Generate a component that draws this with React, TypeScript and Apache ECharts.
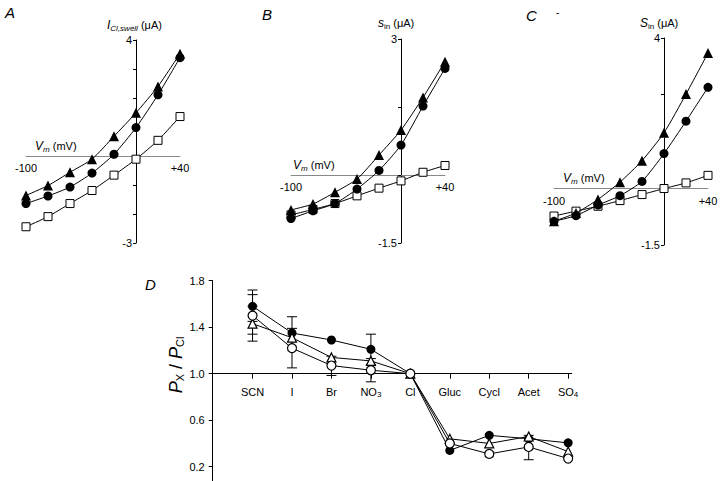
import React, { useEffect, useRef } from "react";
import * as echarts from "echarts";

const voltages = [-100, -80, -60, -40, -20, 0, 20, 40];

const aTriangle = [-1.36, -1.02, -0.56, -0.11, 0.68, 1.49, 2.4, 3.53];
const aCircle = [-1.64, -1.38, -1.07, -0.59, 0.06, 0.98, 2.11, 3.39];
const aSquare = [-2.44, -2.09, -1.64, -1.19, -0.66, -0.11, 0.54, 1.36];

const bTriangle = [-0.77, -0.64, -0.38, -0.09, 0.44, 0.99, 1.71, 2.5];
const bCircle = [-0.96, -0.79, -0.63, -0.31, 0.1, 0.66, 1.52, 2.35];
const bSquare = [-0.88, -0.76, -0.63, -0.46, -0.29, -0.13, 0.06, 0.21];

const cTriangle = [-0.87, -0.65, -0.29, 0.17, 0.74, 1.48, 2.51, 3.6];
const cCircle = [-0.87, -0.72, -0.44, -0.19, 0.19, 0.93, 1.79, 2.69];
const cSquare = [-0.73, -0.6, -0.47, -0.32, -0.16, 0.0, 0.15, 0.35];

const xTickLabels = [-100, 40];
const aYLabels = [-3, 4];
const bYLabels = [-1.5, 3];
const cYLabels = [-1.5, 4];

const ions = ["SCN", "I", "Br", "NO3", "Cl", "Gluc", "Cycl", "Acet", "SO4"];
const dYLabels = [0.2, 0.6, 1.0, 1.4, 1.8];
const dFilled = [1.58, 1.35, 1.29, 1.21, 1.0, 0.34, 0.47, 0.44, 0.405];
const dTriangle = [1.43, 1.31, 1.14, 1.11, 1.0, 0.44, 0.4, 0.46, 0.33];
const dOpen = [1.5, 1.22, 1.07, 1.03, 1.0, 0.4, 0.31, 0.37, 0.27];
// error bars: [ion index, low, high]
const dErrors = [
  [0, 1.45, 1.72],
  [0, 1.34, 1.68],
  [0, 1.28, 1.58],
  [1, 1.22, 1.49],
  [1, 1.05, 1.39],
  [2, 0.985, 1.15],
  [3, 1.08, 1.34],
  [3, 0.93, 1.13],
  [7, 0.26, 0.47],
];

const FONT = "'Liberation Sans', Arial, Helvetica, sans-serif";

function App() {
  const ref = useRef<HTMLDivElement>(null);
  useEffect(() => {
    if (!ref.current) return;
    const chart = echarts.init(ref.current, null, { renderer: "svg" });

    const pair = (ys: number[]) => voltages.map((v, i) => [v, ys[i]]);
    const dPair = (ys: number[]) => ys.map((y, i) => [i, y - 1]);

    const ivGrids = [
      { left: 26, top: 40, width: 154, height: 203 },
      { left: 291, top: 39, width: 154, height: 204 },
      { left: 554, top: 38, width: 154, height: 207 },
    ];
    const yRanges = [
      { min: -3, max: 4, ticks: [-3, -2, -1, 0, 1, 2, 3, 4], labels: aYLabels },
      { min: -1.5, max: 3, ticks: [-1.5, 0, 1.5, 3], labels: bYLabels },
      { min: -1.5, max: 4, ticks: [-1.5, 2.5, 4], labels: cYLabels },
    ];

    const xAxes: any[] = ivGrids.map((_, i) => ({
      type: "value",
      gridIndex: i,
      min: -100,
      max: 40,
      axisLine: { onZero: true, lineStyle: { color: "#888", width: 1 } },
      axisTick: { show: false },
      splitLine: { show: false },
      axisLabel: { show: false },
    }));
    const yAxes: any[] = ivGrids.map((_, i) => ({
      type: "value",
      gridIndex: i,
      min: yRanges[i].min,
      max: yRanges[i].max,
      axisLine: { onZero: true, lineStyle: { color: "#000", width: 1 } },
      axisTick: { customValues: yRanges[i].ticks, length: 3, lineStyle: { color: "#000" } },
      splitLine: { show: false },
      axisLabel: { show: false },
    }));

    // Panel D
    xAxes.push({
      type: "value",
      gridIndex: 3,
      min: -1.01,
      max: 8.09,
      axisLine: { onZero: true, lineStyle: { color: "#000", width: 1 } },
      axisTick: { customValues: [0, 1, 2, 3, 4, 5, 6, 7, 8], length: 5, lineStyle: { color: "#000" } },
      splitLine: { show: false },
      axisLabel: { show: false },
    });
    yAxes.push({
      type: "value",
      gridIndex: 3,
      min: -0.923,
      max: 0.8,
      axisLine: { onZero: false, lineStyle: { color: "#000", width: 1 } },
      axisTick: { customValues: dYLabels.map((v) => v - 1), length: 4, lineStyle: { color: "#000" } },
      splitLine: { show: false },
      axisLabel: { show: false },
    });

    const ivSeries = (i: number, tri: number[], cir: number[], sq: number[]) => [
      {
        type: "line",
        xAxisIndex: i,
        yAxisIndex: i,
        data: pair(sq),
        smooth: 0.2,
        symbol: "rect",
        symbolSize: 8,
        itemStyle: { color: "#fff", borderColor: "#000", borderWidth: 1 },
        lineStyle: { color: "#000", width: 1 },
        z: 3,
      },
      {
        type: "line",
        xAxisIndex: i,
        yAxisIndex: i,
        data: pair(cir),
        smooth: 0.2,
        symbol: "circle",
        symbolSize: 9,
        itemStyle: { color: "#000", borderColor: "#000", borderWidth: 0 },
        lineStyle: { color: "#000", width: 1 },
        z: 4,
      },
      {
        type: "line",
        xAxisIndex: i,
        yAxisIndex: i,
        data: pair(tri),
        smooth: 0.2,
        symbol: "triangle",
        symbolSize: 10,
        itemStyle: { color: "#000", borderColor: "#000", borderWidth: 0 },
        lineStyle: { color: "#000", width: 1 },
        z: 5,
      },
    ];

    const errSeries = {
      type: "custom",
      xAxisIndex: 3,
      yAxisIndex: 3,
      data: dErrors.map((e) => [e[0], e[1] - 1, e[2] - 1]),
      encode: { x: 0, y: [1, 2] },
      z: 2,
      renderItem: (params: any, api: any) => {
        const x = api.value(0);
        const p1 = api.coord([x, api.value(1)]);
        const p2 = api.coord([x, api.value(2)]);
        const w = 5;
        const st = { stroke: "#000", lineWidth: 1 };
        return {
          type: "group",
          children: [
            { type: "line", shape: { x1: p1[0], y1: p1[1], x2: p2[0], y2: p2[1] }, style: st },
            { type: "line", shape: { x1: p1[0] - w, y1: p1[1], x2: p1[0] + w, y2: p1[1] }, style: st },
            { type: "line", shape: { x1: p2[0] - w, y1: p2[1], x2: p2[0] + w, y2: p2[1] }, style: st },
          ],
        };
      },
    };

    const dLine = (ys: number[], symbol: string, filled: boolean, z: number) => ({
      type: "line",
      xAxisIndex: 3,
      yAxisIndex: 3,
      data: dPair(ys),
      symbol,
      symbolSize: 9,
      itemStyle: filled
        ? { color: "#000", borderColor: "#000", borderWidth: 0 }
        : { color: "#fff", borderColor: "#000", borderWidth: 1.2 },
      lineStyle: { color: "#000", width: 1 },
      z,
    });

    const t = (x: number, y: number, text: string, extra: any = {}) => ({
      type: "text",
      x,
      y,
      z: 50,
      style: {
        text,
        fill: "#000",
        font: `11px ${FONT}`,
        align: "left",
        verticalAlign: "middle",
        ...extra,
      },
    });

    const subRich = {
      i: { fontStyle: "italic", fontSize: 12, fontFamily: FONT, fill: "#000" },
      sub: { fontStyle: "italic", fontSize: 8, fontFamily: FONT, fill: "#000", padding: [6, 0, 0, 0] },
      subn: { fontSize: 8, fontFamily: FONT, fill: "#000", padding: [6, 0, 0, 0] },
      n: { fontSize: 11, fontFamily: FONT, fill: "#000" },
      big: { fontStyle: "italic", fontSize: 18, fontFamily: FONT, fill: "#000" },
      bsub: { fontSize: 11, fontFamily: FONT, fill: "#000", padding: [8, 0, 0, 0] },
      bn: { fontSize: 18, fontFamily: FONT, fill: "#000" },
      cat: { fontSize: 11, fontFamily: FONT, fill: "#000" },
      csub: { fontSize: 8, fontFamily: FONT, fill: "#000", padding: [5, 0, 0, 0] },
    };
    const letter = (x: number, y: number, s: string) =>
      t(x, y, s, { font: `italic 15px ${FONT}` });

    const baseGraphic: any[] = [
      letter(5, 12, "A"),
      letter(262, 14, "B"),
      letter(526, 15, "C"),
      t(556, 12, "-", { font: `10px ${FONT}` }),
      letter(145, 284, "D"),
      t(107, 25, "{i|I}{sub|Cl,swell}{n| (μA)}", { rich: subRich }),
      t(35, 146, "{i|V}{sub|m}{n| (mV)}", { rich: subRich }),
      t(378, 23, "{i|s}{subn|in}{n| (μA)}", { rich: subRich }),
      t(293, 165, "{i|V}{sub|m}{n| (mV)}", { rich: subRich }),
      t(640, 23, "{i|S}{subn|in}{n| (μA)}", { rich: subRich }),
      t(563, 178, "{i|V}{sub|m}{n| (mV)}", { rich: subRich }),
      {
        type: "text",
        x: 176,
        y: 365,
        rotation: Math.PI / 2,
        z: 50,
        style: {
          text: "{big|P}{bsub|X}{bn| / }{big|P}{bsub|Cl}",
          rich: subRich,
          fill: "#000",
          align: "center",
          verticalAlign: "middle",
        },
      },
    ];

    const grids = [
      ...ivGrids.map((g) => ({ ...g, containLabel: false })),
      { left: 212.7, top: 280.7, width: 359, height: 200.3, containLabel: false },
    ];

    chart.setOption({
      animation: false,
      backgroundColor: "#fff",
      grid: grids,
      xAxis: xAxes,
      yAxis: yAxes,
      series: [
        ...ivSeries(0, aTriangle, aCircle, aSquare),
        ...ivSeries(1, bTriangle, bCircle, bSquare),
        ...ivSeries(2, cTriangle, cCircle, cSquare),
        errSeries,
        dLine(dFilled, "circle", true, 4),
        dLine(dTriangle, "triangle", false, 5),
        dLine(dOpen, "circle", false, 6),
      ],
      graphic: baseGraphic,
    });

    // Tick labels positioned through the axes' own scales
    const labels: any[] = [];
    yRanges.forEach((r, i) => {
      const finder = { xAxisIndex: i, yAxisIndex: i };
      xTickLabels.forEach((v) => {
        const p = chart.convertToPixel(finder, [v, 0]) as number[];
        labels.push(t(p[0], p[1] + 12, v > 0 ? "+" + v : String(v), { align: "center" }));
      });
      r.labels.forEach((v) => {
        const p = chart.convertToPixel(finder, [0, v]) as number[];
        labels.push(t(p[0] - 4, p[1], String(v), { align: "right" }));
      });
    });
    const dFinder = { xAxisIndex: 3, yAxisIndex: 3 };
    ions.forEach((name, i) => {
      const p = chart.convertToPixel(dFinder, [i, 0]) as number[];
      let text = name;
      if (name === "NO3") text = "{cat|NO}{csub|3}";
      else if (name === "SO4") text = "{cat|SO}{csub|4}";
      else text = "{cat|" + name + "}";
      labels.push(t(p[0], p[1] + 18, text, { align: "center", rich: subRich }));
    });
    dYLabels.forEach((v) => {
      const p = chart.convertToPixel(dFinder, [-1.01, v - 1]) as number[];
      labels.push(t(p[0] - 8, p[1], v.toFixed(1), { align: "right" }));
    });

    chart.setOption({ graphic: [...baseGraphic, ...labels] });

    return () => chart.dispose();
  }, []);
  return (
    <div
      ref={ref}
      style={{ position: "fixed", left: 0, top: 0, width: 720, height: 481, background: "#fff" }}
    />
  );
}

export default App;
